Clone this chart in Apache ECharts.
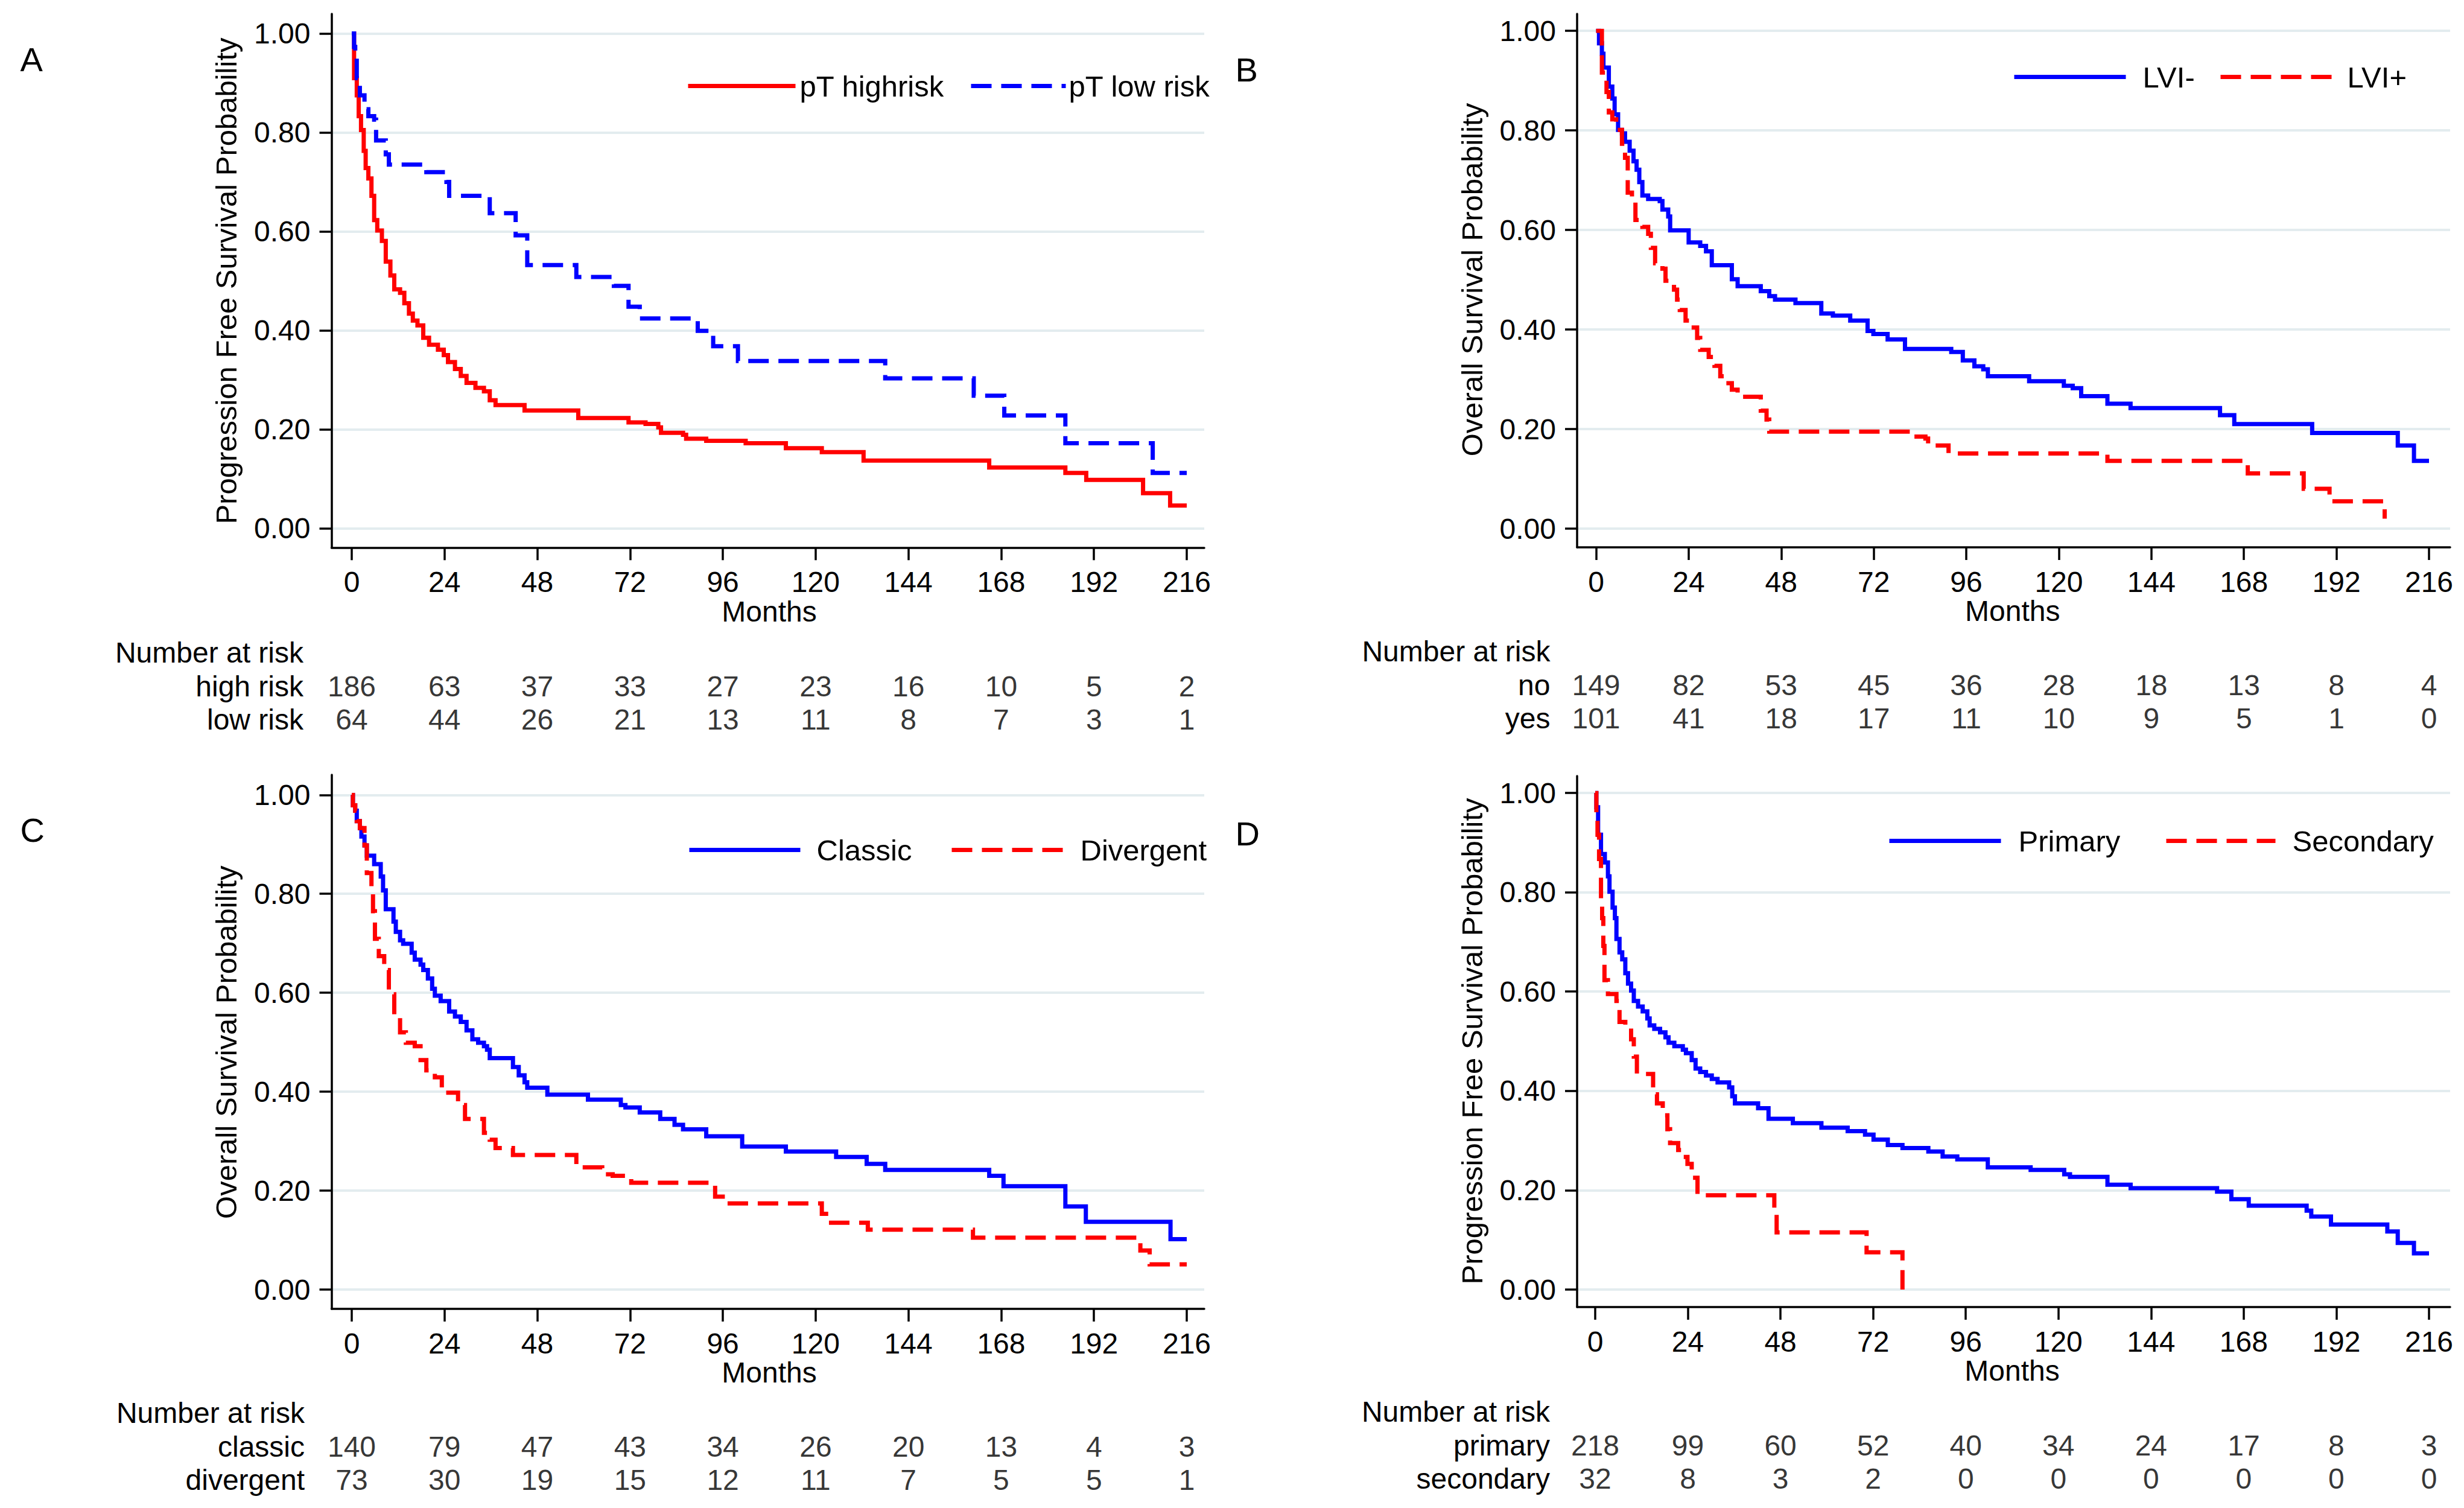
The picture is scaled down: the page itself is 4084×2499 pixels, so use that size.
<!DOCTYPE html>
<html><head><meta charset="utf-8">
<script src="https://cdn.jsdelivr.net/npm/echarts@6/dist/echarts.min.js"></script>
<style>html,body{margin:0;padding:0;background:#fff}#c{width:4084px;height:2499px}</style>
</head><body><div id="c"></div>
<script>
const monthTicks = [0,24,48,72,96,120,144,168,192,216];

// Panel A: progression free survival by pT risk
const aHighT = [0,0.6,1.3,1.8,2.4,3.1,3.6,4.3,5.1,5.8,6.6,7.8,8.8,10.0,11.0,12.5,13.6,14.8,15.8,17.0,18.5,20.0,22.3,23.8,24.9,26.7,28.2,29.7,32.0,34.2,35.7,37.2,44.7,58.6,71.6,76.0,79.3,80.0,85.7,86.5,91.7,101.9,112.3,121.6,132.4,164.9,184.6,190.0,204.7,211.7,216];
const aHighS = [1,0.91,0.875,0.833,0.805,0.763,0.728,0.707,0.672,0.623,0.602,0.581,0.539,0.511,0.483,0.476,0.455,0.434,0.420,0.410,0.385,0.371,0.361,0.350,0.336,0.322,0.308,0.294,0.284,0.277,0.259,0.249,0.238,0.223,0.214,0.211,0.204,0.193,0.189,0.181,0.177,0.172,0.162,0.154,0.137,0.123,0.112,0.098,0.071,0.046,0.046];
const aLowT = [0,0.6,0.9,1.3,2.1,3.3,4.3,5.8,6.3,8.8,9.6,19.3,24.5,25.2,35.7,42.4,45.4,58.1,67.8,71.6,74.5,89.5,93.5,99.9,138.0,160.9,168.8,184.6,207.2,216];
const aLowS = [1,0.973,0.952,0.91,0.875,0.847,0.833,0.826,0.784,0.756,0.735,0.72,0.70,0.672,0.637,0.592,0.532,0.508,0.49,0.448,0.424,0.399,0.368,0.338,0.303,0.268,0.228,0.172,0.112,0.112];
const aRows = ['high risk','low risk'];
const aNarHigh = [186,63,37,33,27,23,16,10,5,2];
const aNarLow = [64,44,26,21,13,11,8,7,3,1];

// Panel B: overall survival by LVI
const bNegT = [0,0.75,1.5,1.9,3.3,4.2,4.8,5.7,6.7,7.5,8.7,9.7,10.5,11.2,12.0,13.5,16.5,17.2,18.7,19.2,24.0,27.0,28.5,30.0,35.2,36.7,42.7,44.9,46.4,51.7,58.4,61.4,65.9,70.4,71.9,75.6,80.1,92.1,95.1,98.1,100.4,101.6,112.3,121.3,123.6,125.8,132.6,138.6,161.8,165.5,185.7,207.9,212.1,216];
const bNegS = [1,0.975,0.954,0.926,0.888,0.864,0.832,0.801,0.794,0.777,0.759,0.738,0.721,0.696,0.669,0.662,0.658,0.641,0.627,0.599,0.575,0.568,0.557,0.529,0.501,0.487,0.477,0.467,0.460,0.453,0.432,0.428,0.418,0.397,0.391,0.380,0.361,0.355,0.338,0.326,0.320,0.306,0.296,0.287,0.282,0.266,0.251,0.242,0.228,0.210,0.192,0.167,0.136,0.136];
const bPosT = [0,1.5,2.7,3.3,4.2,5.2,6.7,7.5,8.2,9.3,10.2,12.0,13.5,14.2,15.3,17.2,18.0,20.2,21.0,21.7,23.2,24.7,26.2,27.0,29.2,30.7,32.2,33.7,35.2,36.7,42.7,44.2,44.9,82.4,85.4,86.1,91.4,132.6,169.0,183.5,190.2,204.5];
const bPosS = [1,0.916,0.877,0.836,0.822,0.801,0.773,0.745,0.675,0.662,0.620,0.606,0.592,0.564,0.533,0.522,0.498,0.480,0.460,0.439,0.418,0.404,0.383,0.359,0.345,0.327,0.306,0.292,0.279,0.265,0.237,0.219,0.195,0.185,0.181,0.167,0.151,0.136,0.111,0.080,0.055,0.020];
const bRows = ['no','yes'];
const bNarNo = [149,82,53,45,36,28,18,13,8,4];
const bNarYes = [101,41,18,17,11,10,9,5,1,0];

// Panel C: overall survival by histology
const cClsT = [0,0.3,0.9,1.3,2.1,2.5,3.3,3.9,5.8,7.5,8.1,8.8,10.8,11.4,12.5,13.3,15.5,16.3,17.8,18.5,19.7,20.8,21.5,23.0,25.2,26.7,28.2,29.7,31.2,32.7,34.2,35.0,35.7,41.7,43.2,44.7,45.4,50.6,61.1,69.6,70.8,74.5,79.8,83.5,85.7,91.7,101.0,112.3,125.3,133.2,138.0,164.9,168.6,184.6,189.9,211.8,216];
const cClsS = [1,0.979,0.968,0.947,0.933,0.916,0.898,0.877,0.860,0.835,0.807,0.769,0.744,0.723,0.706,0.699,0.681,0.667,0.657,0.646,0.629,0.608,0.594,0.583,0.562,0.552,0.541,0.524,0.506,0.499,0.492,0.485,0.468,0.450,0.433,0.419,0.408,0.394,0.384,0.373,0.368,0.358,0.345,0.333,0.324,0.310,0.289,0.279,0.268,0.254,0.242,0.230,0.209,0.168,0.137,0.102,0.102];
const cDivT = [0,0.3,0.9,1.3,2.1,3.3,3.9,5.1,5.5,6.0,7.0,8.4,9.6,11.0,12.5,14.0,16.3,17.8,19.3,21.5,23.3,27.5,29.3,34.2,35.7,37.2,41.7,58.1,64.8,67.5,72.3,94.0,96.9,121.6,123.4,133.5,160.7,204.0,206.4,216];
const cDivS = [1,0.979,0.968,0.947,0.933,0.898,0.842,0.804,0.765,0.709,0.674,0.646,0.597,0.555,0.520,0.499,0.492,0.464,0.443,0.429,0.398,0.373,0.345,0.317,0.303,0.286,0.272,0.247,0.233,0.230,0.216,0.188,0.174,0.153,0.135,0.121,0.105,0.079,0.051,0.051];
const cRows = ['classic','divergent'];
const cNarCls = [140,79,47,43,34,26,20,13,4,3];
const cNarDiv = [73,30,19,15,12,11,7,5,5,1];

// Panel D: progression free survival by primary / secondary
const dPriT = [0,0.3,0.75,1.5,2.5,3.3,3.7,4.5,5.1,5.5,6.3,7.0,7.8,8.5,9.3,10.0,11.1,12.3,13.5,14.1,15.3,16.8,18.2,19.0,20.5,22.7,23.5,25.0,26.0,27.2,28.7,30.2,31.7,34.7,35.5,36.2,42.2,44.9,51.2,58.6,65.4,69.9,72.1,75.8,79.6,86.3,90.0,93.8,101.7,112.8,121.5,123.0,132.7,138.7,161.1,164.8,169.3,184.3,185.5,190.6,205.2,207.9,212.1,216];
const dPriS = [1,0.971,0.916,0.877,0.860,0.832,0.801,0.769,0.748,0.706,0.679,0.665,0.637,0.616,0.602,0.581,0.570,0.560,0.546,0.532,0.525,0.518,0.508,0.497,0.490,0.483,0.476,0.462,0.445,0.438,0.431,0.424,0.417,0.407,0.389,0.375,0.365,0.344,0.335,0.326,0.319,0.312,0.302,0.291,0.285,0.278,0.268,0.262,0.246,0.241,0.232,0.227,0.211,0.204,0.197,0.182,0.169,0.159,0.147,0.131,0.117,0.094,0.073,0.073];
const dSecT = [0,0.3,0.6,1.0,1.5,1.8,2.1,2.4,3.3,5.5,6.3,7.8,9.3,10.0,10.8,15.0,16.0,17.5,18.7,19.4,21.5,22.7,23.9,25.0,26.5,46.4,47.0,70.3,79.6];
const dSecS = [1,0.95,0.916,0.867,0.783,0.748,0.692,0.623,0.595,0.581,0.539,0.532,0.504,0.469,0.434,0.393,0.375,0.351,0.323,0.295,0.281,0.267,0.253,0.225,0.190,0.162,0.115,0.075,0.0];
const dRows = ['primary','secondary'];
const dNarPri = [218,99,60,52,40,34,24,17,8,3];
const dNarSec = [32,8,3,2,0,0,0,0,0,0];

const FONT = '"Liberation Sans", Arial, Helvetica, sans-serif';
const RED = '#ff0000', BLUE = '#0000ff';
const DASH = [34, 16];
const LW = 7;

const panels = [
  { letter:'A', letterPos:[33.5,70.5], ytitle:'Progression Free Survival Probability',
    curves:[{name:'pT highrisk', t:aHighT, s:aHighS, color:RED, dash:false},
            {name:'pT low risk', t:aLowT, s:aLowS, color:BLUE, dash:true}],
    rows:aRows, nar:[aNarHigh, aNarLow],
    g:{yx:549.5, x0:583, x1:1967, xe:1996, ft:23, y1:55.6, y0:875.5, xy:907.3, narTop:1054, narM:80},
    leg:{top:118, items:[{left:1137, w:178, pad:2},{left:1606, w:157, pad:0}]} },
  { letter:'B', letterPos:[2047.5,87], ytitle:'Overall Survival Probability',
    curves:[{name:'LVI-', t:bNegT, s:bNegS, color:BLUE, dash:false},
            {name:'LVI+', t:bPosT, s:bPosS, color:RED, dash:true}],
    rows:bRows, nar:[bNarNo, bNarYes],
    g:{yx:2614, x0:2645.5, x1:4026, xe:4061, ft:23, y1:51, y0:876, xy:907, narTop:1052, narM:76},
    leg:{top:103, items:[{left:3335, w:185, pad:23},{left:3677, w:185, pad:20}]} },
  { letter:'C', letterPos:[33.5,1347], ytitle:'Overall Survival Probability',
    curves:[{name:'Classic', t:cClsT, s:cClsS, color:BLUE, dash:false},
            {name:'Divergent', t:cDivT, s:cDivS, color:RED, dash:true}],
    rows:cRows, nar:[cNarCls, cNarDiv],
    g:{yx:549.5, x0:583, x1:1967, xe:1996, ft:1284, y1:1317.3, y0:2137, xy:2169, narTop:2314, narM:78},
    leg:{top:1384, items:[{left:1139, w:184, pad:22},{left:1574, w:184, pad:24}]} },
  { letter:'D', letterPos:[2047.5,1353], ytitle:'Progression Free Survival Probability',
    curves:[{name:'Primary', t:dPriT, s:dPriS, color:BLUE, dash:false},
            {name:'Secondary', t:dSecT, s:dSecS, color:RED, dash:true}],
    rows:dRows, nar:[dNarPri, dNarSec],
    g:{yx:2614, x0:2644, x1:4026, xe:4061, ft:1286, y1:1314, y0:2137, xy:2166, narTop:2312, narM:75},
    leg:{top:1369, items:[{left:3128, w:185, pad:24},{left:3587, w:181, pad:23}]} }
];

const grid = [], xAxis = [], yAxis = [], series = [], legend = [], title = [];
const txt = (size) => ({ fontSize:size, color:'#000', fontFamily:FONT, fontWeight:'normal' });
const AX = { color:'#000', width:3.5 };

panels.forEach((p) => {
  const g = p.g;
  const gi = grid.length;
  // 0: frame (axis lines)
  grid.push({ left:g.yx, top:g.ft, width:g.xe-g.yx, height:g.xy-g.ft, containLabel:false, outerBoundsMode:'none' });
  xAxis.push({ gridIndex:gi, type:'value', min:0, max:1, axisLine:{show:true, onZero:false, lineStyle:AX},
    axisTick:{show:false}, axisLabel:{show:false}, splitLine:{show:false} });
  yAxis.push({ gridIndex:gi, type:'value', min:0, max:1, axisLine:{show:true, onZero:false, lineStyle:AX},
    axisTick:{show:false}, axisLabel:{show:false}, splitLine:{show:false} });
  // 1: horizontal grid lines across the full frame width
  grid.push({ left:g.yx, top:g.y1, width:g.xe-g.yx, height:g.y0-g.y1, containLabel:false, outerBoundsMode:'none' });
  xAxis.push({ gridIndex:gi+1, type:'value', min:0, max:1, show:false });
  yAxis.push({ gridIndex:gi+1, type:'value', min:0, max:1, interval:0.2, axisLine:{show:false},
    axisTick:{show:false}, axisLabel:{show:false}, splitLine:{show:true, lineStyle:{color:'#e3ecef', width:4}} });
  // 2: data grid
  grid.push({ left:g.x0, top:g.y1, width:g.x1-g.x0, height:g.y0-g.y1, containLabel:false, outerBoundsMode:'none' });
  xAxis.push({ gridIndex:gi+2, type:'value', min:0, max:216, interval:24, offset:g.xy-g.y0,
    axisLine:{show:false, onZero:false}, axisTick:{show:true, length:21, lineStyle:AX},
    axisLabel:Object.assign({margin:33}, txt(48)), splitLine:{show:false},
    name:'Months', nameLocation:'middle', nameGap:80, nameTextStyle:txt(48) });
  yAxis.push({ gridIndex:gi+2, type:'value', min:0, max:1, interval:0.2, offset:g.x0-g.yx,
    axisLine:{show:false, onZero:false}, axisTick:{show:true, length:20, lineStyle:AX},
    axisLabel:Object.assign({margin:35, formatter:(v)=>v.toFixed(2)}, txt(48)), splitLine:{show:false},
    name:p.ytitle, nameLocation:'middle', nameGap:150, nameTextStyle:txt(49) });
  // 3: number-at-risk table
  grid.push({ left:g.x0, top:g.narTop, width:g.x1-g.x0, height:166.5, containLabel:false, outerBoundsMode:'none' });
  xAxis.push({ gridIndex:gi+3, type:'value', min:0, max:216, show:false });
  yAxis.push({ gridIndex:gi+3, type:'category', inverse:true, data:['Number at risk'].concat(p.rows),
    axisLine:{show:false}, axisTick:{show:false}, splitLine:{show:false},
    axisLabel:Object.assign({margin:g.narM, interval:0, hideOverlap:false}, txt(48)) });

  p.curves.forEach((c) => {
    series.push({ type:'line', name:c.name, xAxisIndex:gi+2, yAxisIndex:gi+2,
      data:c.t.map((t,i)=>[t, c.s[i]]), step:'end', symbol:'none', showSymbol:false,
      lineStyle:{color:c.color, width:LW, type:c.dash?DASH:'solid', cap:'butt', join:'miter'},
      itemStyle:{color:c.color}, silent:true, animation:false, z:3 });
  });
  p.nar.forEach((arr, r) => {
    series.push({ type:'scatter', xAxisIndex:gi+3, yAxisIndex:gi+3,
      data:monthTicks.map((m,i)=>[m, r+1, arr[i]]), symbolSize:1,
      itemStyle:{color:'rgba(0,0,0,0)'}, silent:true, animation:false,
      label:Object.assign({show:true, position:'inside', formatter:(q)=>String(q.value[2])}, txt(48)) });
  });
  p.curves.forEach((c, k) => {
    const it = p.leg.items[k];
    legend.push({ left:it.left, top:p.leg.top, padding:0, itemWidth:it.w, itemHeight:14, itemGap:0,
      selectedMode:false, data:[c.name], orient:'horizontal',
      textStyle:Object.assign({padding:[0,0,0,it.pad]}, txt(49)),
      itemStyle:{opacity:0}, lineStyle:{width:LW, color:c.color, type:c.dash?DASH:'solid'} });
  });
  title.push({ text:p.letter, left:p.letterPos[0], top:p.letterPos[1], padding:0,
    textStyle:Object.assign({lineHeight:56}, txt(56)) });
});

const chart = echarts.init(document.getElementById('c'), null, {renderer:'svg', width:4084, height:2499});
chart.setOption({ backgroundColor:'#ffffff', animation:false, title, legend, grid, xAxis, yAxis, series, tooltip:{show:false} });
</script>
</body></html>
